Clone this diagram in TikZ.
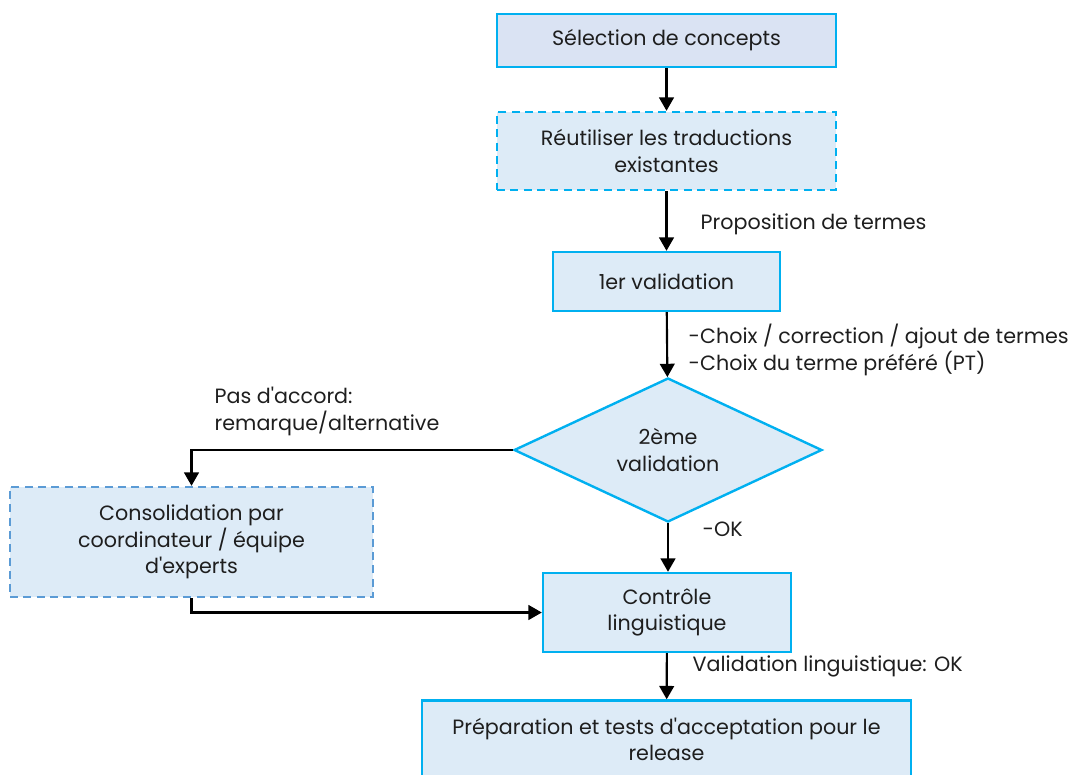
\documentclass[tikz,border=0pt]{standalone}
\usepackage{fontspec}
\setmainfont{Poppins}
\usepackage{tikz}
\usetikzlibrary{positioning,arrows.meta,shapes.geometric,calc}
\definecolor{boxcyan}{RGB}{0,176,240}
\definecolor{boxblue}{RGB}{91,155,213}
\definecolor{boxfill}{RGB}{221,235,247}
\definecolor{topfill}{RGB}{218,227,243}
\definecolor{textdark}{RGB}{30,30,30}

\begin{document}
\begin{tikzpicture}[x=0.75pt,y=-0.75pt,every node/.style={font=\fontsize{15.5}{20}\selectfont,text=textdark},
    stage/.style={draw=boxcyan,line width=1.8pt,fill=boxfill,align=center,inner sep=0pt},
    reused/.style={stage,dashed,dash pattern=on 6pt off 4pt},
    decision/.style={diamond,draw=boxcyan,line width=1.8pt,fill=boxfill,align=center,inner sep=0pt,aspect=2.14},
    flow/.style={-{Triangle[length=10pt,width=11pt]},line width=1.6pt,black},
    note/.style={align=left,anchor=west}]
  \useasboundingbox (0,0) rectangle (1069,774);
  \node[stage,fill=topfill,minimum width=339*0.75pt,minimum height=53*0.75pt] (sel) at (666.5,40.5) {Sélection de concepts};
  \node[reused,minimum width=339*0.75pt,minimum height=78*0.75pt] (reuse) at (666.5,151) {Réutiliser les traductions\\existantes};
  \node[stage,minimum width=227*0.75pt,minimum height=59*0.75pt] (val1) at (666.5,281.5) {1er validation};
  \node[decision,minimum width=308*0.75pt,minimum height=144*0.75pt] (val2) at (668,450) {2ème\\validation};
  \node[reused,draw=boxblue,minimum width=363*0.75pt,minimum height=110*0.75pt] (cons) at (191.5,542) {Consolidation par\\coordinateur / équipe\\d\textquotesingle experts};
  \node[stage,minimum width=248*0.75pt,minimum height=79*0.75pt] (ctrl) at (667,612.5) {Contrôle\\linguistique};
  \node[stage,minimum width=489*0.75pt,minimum height=78*0.75pt] (prep) at (666.5,739.5) {Préparation et tests d\textquotesingle acceptation pour le\\release};
  % connectors
  \draw[flow] (sel) -- (reuse);
  \draw[flow] (reuse) -- (val1);
  \draw[flow] (val1) -- (val2);
  \draw[flow] (val2) -- (val2|-ctrl.north);
  \draw[flow] (ctrl) -- (prep);
  \draw[flow] (val2.west) -| (cons.north);
  \draw[flow] (cons.south) |- (ctrl.west);
  % labels
  \node[note] (lprop) at (696,224) {Proposition de termes};
  \node[note] (lchoix) at (684,350) {-Choix / correction / ajout de termes\\-Choix du terme préféré (PT)};
  \node[note] (lpas) at (210,411.5) {Pas d\textquotesingle accord:\\remarque/alternative};
  \node[note] (lok) at (698,529) {-OK};
  \node[note] (lling) at (688,666) {Validation linguistique: OK};
\end{tikzpicture}
\end{document}
